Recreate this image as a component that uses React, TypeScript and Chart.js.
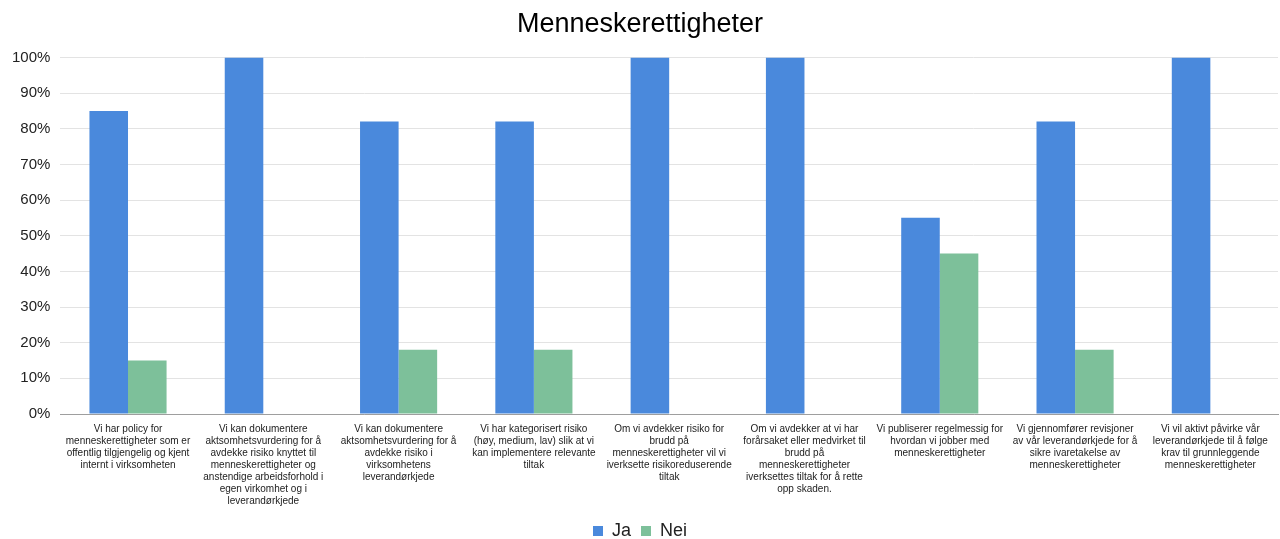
import React, { useEffect, useRef } from "react";
import { Chart, registerables } from "chart.js";

Chart.register(...registerables);

const categories: string[][] = [
  ["Vi har policy for", "menneskerettigheter som er", "offentlig tilgjengelig og kjent", "internt i virksomheten"],
  ["Vi kan dokumentere", "aktsomhetsvurdering for å", "avdekke risiko knyttet til", "menneskerettigheter og", "anstendige arbeidsforhold i", "egen virkomhet og i", "leverandørkjede"],
  ["Vi kan dokumentere", "aktsomhetsvurdering for å", "avdekke risiko i", "virksomhetens", "leverandørkjede"],
  ["Vi har kategorisert risiko", "(høy, medium, lav) slik at vi", "kan implementere relevante", "tiltak"],
  ["Om vi avdekker risiko for", "brudd på", "menneskerettigheter vil vi", "iverksette risikoreduserende", "tiltak"],
  ["Om vi avdekker at vi har", "forårsaket eller medvirket til", "brudd på", "menneskerettigheter", "iverksettes tiltak for å rette", "opp skaden."],
  ["Vi publiserer regelmessig for", "hvordan vi jobber med", "menneskerettigheter"],
  ["Vi gjennomfører revisjoner", "av vår leverandørkjede for å", "sikre ivaretakelse av", "menneskerettigheter"],
  ["Vi vil aktivt påvirke vår", "leverandørkjede til å følge", "krav til grunnleggende", "menneskerettigheter"],
];

const jaValues = [85, 100, 82, 82, 100, 100, 55, 82, 100];
const neiValues = [15, 0, 18, 18, 0, 0, 45, 18, 0];
const seriesNames = ["Ja", "Nei"];
const titleText = "Menneskerettigheter";

const legendShift = {
  id: "legendShift",
  afterLayout(chart: any) {
    if (chart.legend) {
      chart.legend.top += 4;
      chart.legend.bottom += 4;
    }
  },
};

export default function App() {
  const ref = useRef<HTMLCanvasElement | null>(null);
  useEffect(() => {
    if (!ref.current) return;
    const font = "'Liberation Sans', Arial, sans-serif";
    const chart = new Chart(ref.current, {
      type: "bar",
      data: {
        labels: categories,
        datasets: [
          {
            label: seriesNames[0],
            data: jaValues,
            backgroundColor: "#4a89dc",
            borderWidth: 0,
            categoryPercentage: 0.57,
            barPercentage: 1,
          },
          {
            label: seriesNames[1],
            data: neiValues,
            backgroundColor: "#7dc09a",
            borderWidth: 0,
            categoryPercentage: 0.57,
            barPercentage: 1,
          },
        ],
      },
      options: {
        animation: false,
        responsive: true,
        maintainAspectRatio: false,
        layout: { padding: { left: 2, right: 2, top: 0, bottom: -7 } },
        plugins: {
          title: {
            display: true,
            text: titleText,
            color: "#000",
            font: { family: font, size: 27, weight: "normal" },
            padding: { top: 8, bottom: 17 },
          },
          legend: {
            position: "bottom",
            labels: {
              color: "#222",
              font: { family: font, size: 18 },
              boxWidth: 10,
              boxHeight: 10,
              padding: 10,
            },
          },
          tooltip: { enabled: false },
        },
        scales: {
          x: {
            grid: { display: false },
            border: { color: "#9e9e9e" },
            ticks: {
              color: "#222",
              font: { family: font, size: 10, lineHeight: 1.2 },
              maxRotation: 0,
              autoSkip: false,
              padding: 1,
            },
          },
          y: {
            min: 0,
            max: 100,
            border: { display: false },
            grid: { color: "#e3e3e3", drawTicks: false },
            ticks: {
              stepSize: 10,
              color: "#222",
              font: { family: font, size: 15 },
              padding: 10,
              callback: (v: any) => v + "%",
            },
          },
        },
      },
      plugins: [legendShift],
    });
    return () => chart.destroy();
  }, []);
  return (
    <div style={{ position: "fixed", left: 0, top: 0, width: 1280, height: 539, background: "#fff" }}>
      <canvas ref={ref} />
    </div>
  );
}
